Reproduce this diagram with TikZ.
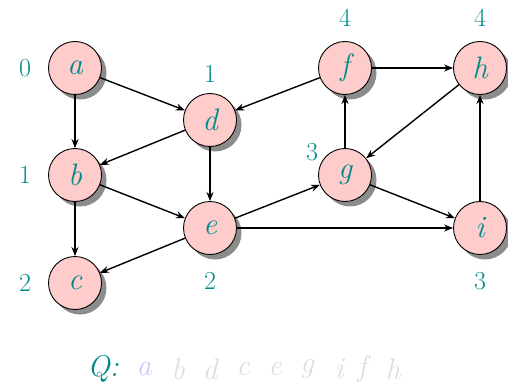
\RequirePackage{fix-cm}
\documentclass[tikz,border=0pt]{standalone}
\usetikzlibrary{arrows.meta,shadows}
\definecolor{vertfill}{RGB}{255,204,204}
\definecolor{distcol}{RGB}{0,139,139}
\definecolor{headcol}{RGB}{200,200,255}
\definecolor{queuecol}{RGB}{222,222,222}
\tikzset{
  vert/.style={circle, draw=black, line width=0.9pt, fill=vertfill, minimum size=53pt,
    inner sep=0pt, text=distcol, font=\fontsize{31}{31}\selectfont\itshape,
    drop shadow={shadow xshift=5pt, shadow yshift=-5pt, fill=gray!90, opacity=1}},
  dist/.style={text=distcol, font=\fontsize{26}{26}\selectfont},
  edge/.style={->, line width=1.4pt, >={Stealth[length=9pt,width=7pt]}},
  qitem/.style={font=\fontsize{30}{30}\selectfont\itshape, text=queuecol}
}
\begin{document}
\begin{tikzpicture}[x=1pt,y=-1pt]
\useasboundingbox ( 0, 0 ) rectangle ( 508, 390 );
% вершины
                \node [vert] (a) at ( 75, 68 ) {a};
                \node [vert] (b) at ( 75, 175 ) {b};
                \node [vert] (c) at ( 75, 283 ) {c};
                \node [vert] (d) at ( 210, 120 ) {d};
                \node [vert] (e) at ( 210, 228 ) {e};
                \node [vert] (f) at ( 345, 68 ) {f};
                \node [vert] (g) at ( 345, 175 ) {g};
                \node [vert] (h) at ( 480, 68 ) {h};
                \node [vert] (i) at ( 480, 228 ) {i};

% расстояния
                \node [dist] (da) at ( 25, 68 ) {0};
                \node [dist] (db) at ( 25, 175 ) {1};
                \node [dist] (dc) at ( 25, 283 ) {2};
                \node [dist] (dd) at ( 210, 74 ) {1};
                \node [dist] (de) at ( 210, 281 ) {2};
                \node [dist] (df) at ( 345, 18 ) {4};
                \node [dist] (dg) at ( 312, 152 ) {3};
                \node [dist] (dh) at ( 480, 18 ) {4};
                \node [dist] (di) at ( 480, 281 ) {3};

% рёбра
                \draw [edge] (a) -- (d);
                \draw [edge] (a) -- (b);
                \draw [edge] (d) -- (b);
                \draw [edge] (d) -- (e);
                \draw [edge] (b) -- (e);
                \draw [edge] (b) -- (c);
                \draw [edge] (e) -- (c);
                \draw [edge] (e) -- (g);
                \draw [edge] (e) -- (i);
                \draw [edge] (f) -- (d);
                \draw [edge] (f) -- (h);
                \draw [edge] (g) -- (f);
                \draw [edge] (h) -- (g);
                \draw [edge] (g) -- (i);
                \draw [edge] (i) -- (h);

% очередь
                \node [qitem, text=distcol] (q) at ( 103, 369 ) {Q:};
                \node [qitem, text=headcol] (q1) at ( 144, 369 ) {a};
                \foreach \x/\l [count=\k from 2] in {178/b, 210/d, 243/c, 275/e, 307/g, 339/i, 362/f, 393/h}
                    \node [qitem] (q\k) at ( \x, 369 ) {\l};
\end{tikzpicture}
\end{document}
